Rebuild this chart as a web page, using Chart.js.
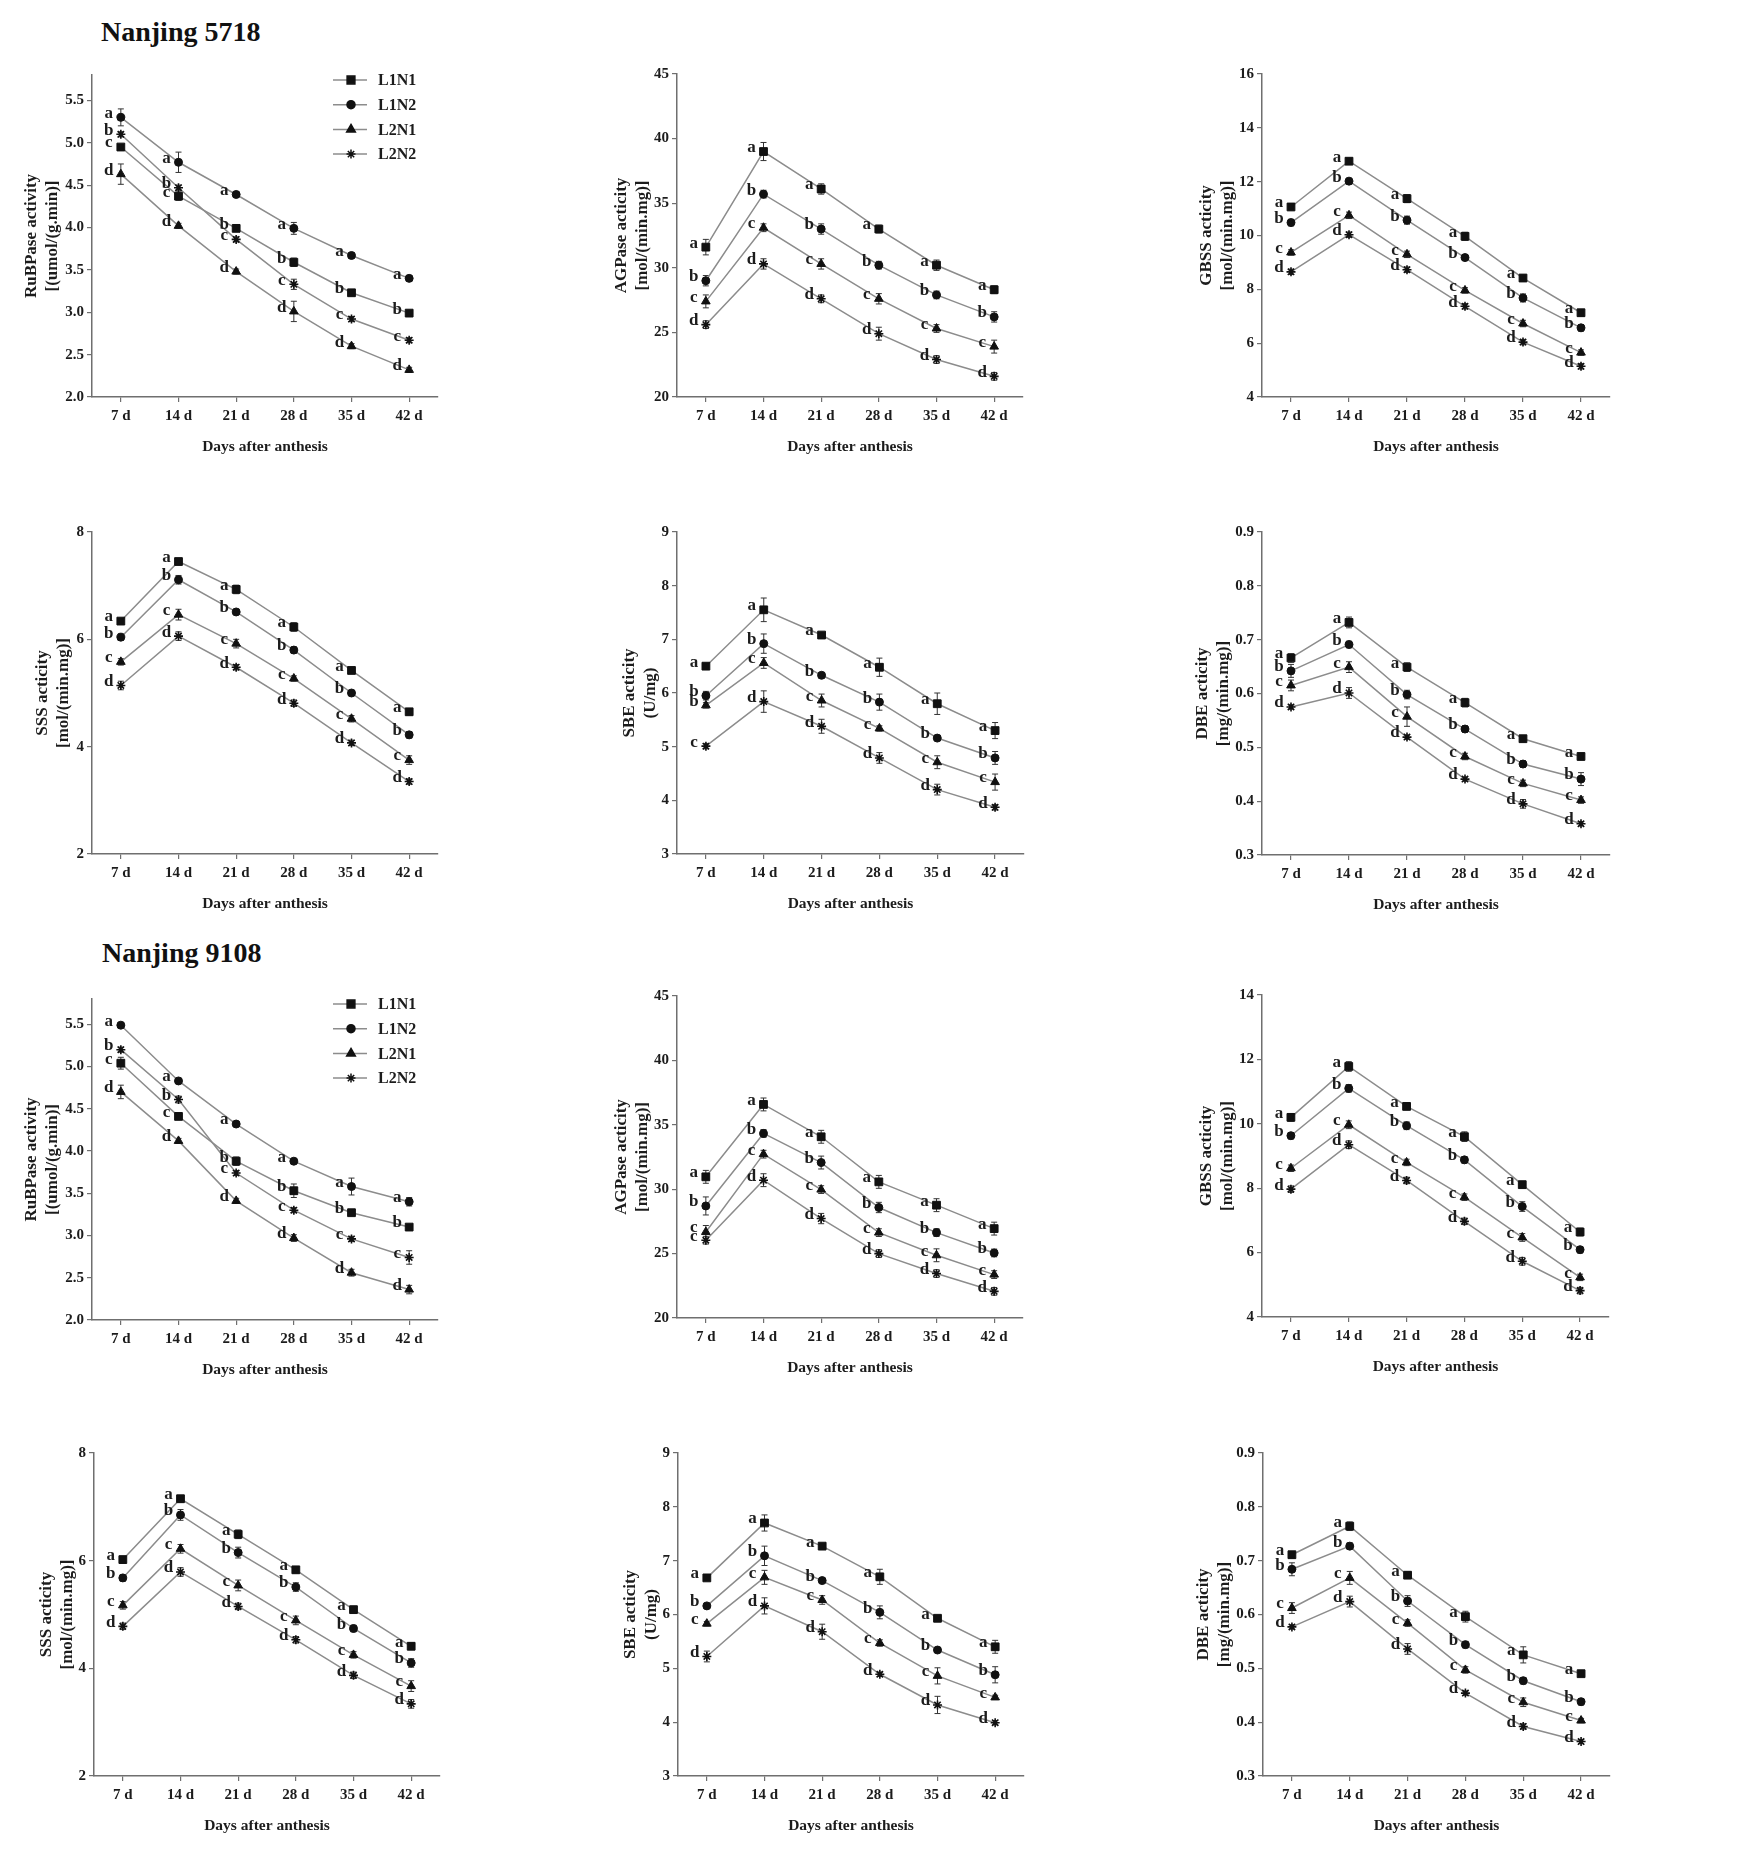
<!DOCTYPE html>
<html>
<head>
<meta charset="utf-8">
<script src="https://cdn.jsdelivr.net/npm/chart.js@4.4.1/dist/chart.umd.min.js"></script>
<style>
  html, body { margin: 0; padding: 0; background: #fff; }
  #page { position: relative; width: 1761px; height: 1851px; overflow: hidden; }
  .ttl { position: absolute; font: bold 28px "Liberation Serif", "Times New Roman", serif; line-height: 30px; color: #111; white-space: nowrap; }
  canvas { position: absolute; }
</style>
</head>
<body>
<div id="page">
  <div class="ttl" style="left:101px;top:17px">Nanjing 5718</div>
  <div class="ttl" style="left:102px;top:938px">Nanjing 9108</div>
</div>
<script>
// categories and treatments
const DAYS = ['7 d', '14 d', '21 d', '28 d', '35 d', '42 d'];
const TREATMENTS = ['L1N1', 'L1N2', 'L2N1', 'L2N2'];

// ---- Nanjing 5718 ----  (rows: L1N1, L1N2, L2N1, L2N2)
const RUBP_5718 = [
  [4.95, 4.37, 3.99, 3.59, 3.23, 2.99],
  [5.30, 4.77, 4.39, 3.99, 3.67, 3.40],
  [4.63, 4.02, 3.48, 3.01, 2.60, 2.32],
  [5.10, 4.47, 3.86, 3.33, 2.92, 2.67]
];
const RUBP_5718_SE = [
  [0.03, 0.05, 0.03, 0.05, 0.02, 0.03],
  [0.10, 0.12, 0.03, 0.07, 0.03, 0.03],
  [0.12, 0.03, 0.03, 0.12, 0.03, 0.03],
  [0.03, 0.03, 0.03, 0.06, 0.03, 0.03]
];
const RUBP_5718_SIG = ['ccbbbb', 'aaaaaa', 'dddddd', 'bbcccc'];

const AGP_5718 = [
  [31.6, 39.0, 36.1, 33.0, 30.2, 28.3],
  [29.0, 35.7, 33.0, 30.2, 27.9, 26.2],
  [27.4, 33.1, 30.3, 27.6, 25.3, 23.9],
  [25.6, 30.3, 27.6, 24.9, 22.9, 21.6]
];
const AGP_5718_SE = [
  [0.6, 0.7, 0.4, 0.3, 0.4, 0.3],
  [0.4, 0.3, 0.4, 0.3, 0.3, 0.4],
  [0.5, 0.3, 0.4, 0.4, 0.3, 0.5],
  [0.3, 0.4, 0.3, 0.5, 0.3, 0.3]
];
const AGP_5718_SIG = ['aaaaaa', 'bbbbbb', 'cccccc', 'dddddd'];

const GBSS_5718 = [
  [11.06, 12.76, 11.37, 9.97, 8.42, 7.13],
  [10.48, 12.02, 10.57, 9.18, 7.68, 6.57],
  [9.37, 10.75, 9.30, 7.96, 6.73, 5.65],
  [8.65, 10.03, 8.73, 7.37, 6.04, 5.14]
];
const GBSS_5718_SE = [
  [0.12, 0.10, 0.15, 0.15, 0.12, 0.12],
  [0.12, 0.10, 0.15, 0.10, 0.15, 0.12],
  [0.10, 0.12, 0.12, 0.10, 0.12, 0.10],
  [0.10, 0.10, 0.10, 0.10, 0.10, 0.10]
];
const GBSS_5718_SIG = ['aaaaaa', 'bbbbbb', 'cccccc', 'dddddd'];

const SSS_5718 = [
  [6.34, 7.45, 6.93, 6.23, 5.42, 4.65],
  [6.04, 7.11, 6.51, 5.80, 5.00, 4.22],
  [5.58, 6.46, 5.92, 5.27, 4.52, 3.75],
  [5.14, 6.06, 5.48, 4.81, 4.07, 3.35]
];
const SSS_5718_SE = [
  [0.05, 0.05, 0.08, 0.08, 0.05, 0.06],
  [0.06, 0.08, 0.05, 0.06, 0.05, 0.06],
  [0.06, 0.10, 0.08, 0.05, 0.06, 0.08],
  [0.08, 0.08, 0.05, 0.06, 0.05, 0.05]
];
const SSS_5718_SIG = ['aaaaaa', 'bbbbbb', 'cccccc', 'dddddd'];

const SBE_5718 = [
  [6.50, 7.55, 7.08, 6.48, 5.80, 5.30],
  [5.95, 6.92, 6.33, 5.83, 5.16, 4.79],
  [5.77, 6.56, 5.86, 5.34, 4.71, 4.34],
  [5.01, 5.84, 5.38, 4.79, 4.20, 3.87]
];
const SBE_5718_SE = [
  [0.04, 0.22, 0.04, 0.17, 0.20, 0.15],
  [0.08, 0.18, 0.05, 0.15, 0.05, 0.12],
  [0.05, 0.10, 0.12, 0.05, 0.12, 0.15],
  [0.05, 0.20, 0.13, 0.10, 0.10, 0.05]
];
const SBE_5718_SIG = ['aaaaaa', 'bbbbbb', 'bccccc', 'cddddd'];

const DBE_5718 = [
  [0.666, 0.732, 0.649, 0.583, 0.516, 0.483],
  [0.642, 0.691, 0.598, 0.534, 0.469, 0.441],
  [0.615, 0.649, 0.557, 0.483, 0.433, 0.402],
  [0.575, 0.601, 0.519, 0.441, 0.395, 0.358]
];
const DBE_5718_SE = [
  [0.008, 0.010, 0.008, 0.008, 0.006, 0.006],
  [0.012, 0.006, 0.008, 0.006, 0.006, 0.012],
  [0.010, 0.010, 0.018, 0.006, 0.006, 0.006],
  [0.004, 0.010, 0.004, 0.004, 0.008, 0.004]
];
const DBE_5718_SIG = ['aaaaaa', 'bbbbbb', 'cccccc', 'dddddd'];

// ---- Nanjing 9108 ----
const RUBP_9108 = [
  [5.04, 4.41, 3.88, 3.53, 3.27, 3.10],
  [5.49, 4.83, 4.32, 3.88, 3.58, 3.40],
  [4.70, 4.12, 3.41, 2.97, 2.56, 2.36],
  [5.20, 4.61, 3.74, 3.30, 2.96, 2.74]
];
const RUBP_9108_SE = [
  [0.07, 0.03, 0.05, 0.08, 0.03, 0.03],
  [0.03, 0.03, 0.03, 0.03, 0.10, 0.05],
  [0.08, 0.03, 0.03, 0.04, 0.04, 0.05],
  [0.03, 0.04, 0.03, 0.03, 0.03, 0.08]
];
const RUBP_9108_SIG = ['ccbbbb', 'aaaaaa', 'dddddd', 'bbcccc'];

const AGP_9108 = [
  [30.96, 36.58, 34.07, 30.57, 28.76, 26.94],
  [28.70, 34.33, 32.07, 28.58, 26.63, 25.05],
  [26.68, 32.72, 29.97, 26.63, 24.87, 23.37],
  [26.04, 30.70, 27.72, 25.00, 23.45, 22.07]
];
const AGP_9108_SE = [
  [0.5, 0.5, 0.5, 0.5, 0.5, 0.5],
  [0.7, 0.3, 0.5, 0.4, 0.3, 0.3],
  [0.5, 0.3, 0.3, 0.3, 0.5, 0.3],
  [0.3, 0.5, 0.4, 0.3, 0.3, 0.3]
];
const AGP_9108_SIG = ['aaaaaa', 'bbbbbb', 'cccccc', 'cddddd'];

const GBSS_9108 = [
  [10.20, 11.78, 10.54, 9.60, 8.11, 6.64],
  [9.63, 11.10, 9.94, 8.88, 7.43, 6.09],
  [8.62, 9.97, 8.80, 7.72, 6.47, 5.23],
  [7.97, 9.35, 8.24, 6.97, 5.73, 4.82]
];
const GBSS_9108_SE = [
  [0.12, 0.15, 0.10, 0.15, 0.10, 0.12],
  [0.10, 0.12, 0.12, 0.10, 0.15, 0.10],
  [0.10, 0.12, 0.10, 0.10, 0.12, 0.10],
  [0.10, 0.12, 0.10, 0.10, 0.12, 0.10]
];
const GBSS_9108_SIG = ['aaaaaa', 'bbbbbb', 'cccccc', 'dddddd'];

const SSS_9108 = [
  [6.02, 7.15, 6.49, 5.83, 5.09, 4.41],
  [5.68, 6.85, 6.15, 5.51, 4.74, 4.10],
  [5.17, 6.22, 5.54, 4.89, 4.25, 3.67],
  [4.78, 5.79, 5.15, 4.53, 3.87, 3.34]
];
const SSS_9108_SE = [
  [0.06, 0.06, 0.08, 0.06, 0.06, 0.06],
  [0.06, 0.10, 0.10, 0.08, 0.06, 0.08],
  [0.07, 0.08, 0.10, 0.08, 0.06, 0.10],
  [0.06, 0.08, 0.06, 0.06, 0.06, 0.08]
];
const SSS_9108_SIG = ['aaaaaa', 'bbbbbb', 'cccccc', 'dddddd'];

const SBE_9108 = [
  [6.68, 7.70, 7.27, 6.70, 5.93, 5.40],
  [6.16, 7.09, 6.63, 6.04, 5.34, 4.88],
  [5.83, 6.69, 6.27, 5.47, 4.86, 4.46],
  [5.22, 6.16, 5.68, 4.89, 4.32, 3.99]
];
const SBE_9108_SE = [
  [0.04, 0.15, 0.04, 0.14, 0.04, 0.12],
  [0.04, 0.18, 0.04, 0.12, 0.04, 0.15],
  [0.04, 0.13, 0.08, 0.06, 0.15, 0.04],
  [0.10, 0.15, 0.14, 0.04, 0.16, 0.04]
];
const SBE_9108_SIG = ['aaaaaa', 'bbbbbb', 'cccccc', 'dddddd'];

const DBE_9108 = [
  [0.711, 0.764, 0.673, 0.596, 0.525, 0.490],
  [0.684, 0.727, 0.625, 0.544, 0.477, 0.438],
  [0.612, 0.668, 0.584, 0.497, 0.437, 0.403],
  [0.577, 0.624, 0.536, 0.454, 0.392, 0.364]
];
const DBE_9108_SE = [
  [0.006, 0.008, 0.006, 0.010, 0.015, 0.004],
  [0.012, 0.006, 0.010, 0.006, 0.006, 0.006],
  [0.010, 0.012, 0.006, 0.006, 0.008, 0.004],
  [0.004, 0.010, 0.010, 0.004, 0.005, 0.004]
];
const DBE_9108_SIG = ['aaaaaa', 'bbbbbb', 'cccccc', 'dddddd'];

// styling
const SERIF = '"Liberation Serif", "Times New Roman", serif';
const LINE = '#8c8c8c';
const AXIS = '#6f6f6f';
const TXT = '#1c1c1c';
const MARKERS = ['rect', 'circle', 'triangle', 'star'];
const RADII = [5.5, 4, 5, 4.5];

const RUBP_T = ['RuBPase activity', '[(umol/(g.min)]'];
const MOL_T = n => [n + ' acticity', '[mol/(min.mg)]'];

// box = plot area [left, right, top, bottom]; tOff = y-title padding
const panels = [
  { d: RUBP_5718, se: RUBP_5718_SE, sig: RUBP_5718_SIG, title: RUBP_T, min: 2, max: 5.8, step: 0.5, dec: 1, box: [92, 438, 75, 397], tOff: 19, legend: true },
  { d: AGP_5718, se: AGP_5718_SE, sig: AGP_5718_SIG, title: MOL_T('AGPase'), min: 20, max: 45, step: 5, dec: 0, box: [677, 1023, 74, 397], tOff: 24 },
  { d: GBSS_5718, se: GBSS_5718_SE, sig: GBSS_5718_SIG, title: MOL_T('GBSS'), min: 4, max: 16, step: 2, dec: 0, box: [1262, 1610, 74, 397], tOff: 24 },
  { d: SSS_5718, se: SSS_5718_SE, sig: SSS_5718_SIG, title: MOL_T('SSS'), min: 2, max: 8, step: 2, dec: 0, box: [92, 438, 532, 854], tOff: 30 },
  { d: SBE_5718, se: SBE_5718_SE, sig: SBE_5718_SIG, title: ['SBE acticity', '(U/mg)'], min: 3, max: 9, step: 1, dec: 0, box: [677, 1024, 532, 854], tOff: 32 },
  { d: DBE_5718, se: DBE_5718_SE, sig: DBE_5718_SIG, title: ['DBE acticity', '[mg/(min.mg)]'], min: 0.3, max: 0.9, step: 0.1, dec: 1, box: [1262, 1610, 532, 855], tOff: 20 },
  { d: RUBP_9108, se: RUBP_9108_SE, sig: RUBP_9108_SIG, title: RUBP_T, min: 2, max: 5.8, step: 0.5, dec: 1, box: [92, 438, 999, 1320], tOff: 19, legend: true },
  { d: AGP_9108, se: AGP_9108_SE, sig: AGP_9108_SIG, title: MOL_T('AGPase'), min: 20, max: 45, step: 5, dec: 0, box: [677, 1023, 996, 1318], tOff: 24 },
  { d: GBSS_9108, se: GBSS_9108_SE, sig: GBSS_9108_SIG, title: MOL_T('GBSS'), min: 4, max: 14, step: 2, dec: 0, box: [1262, 1609, 995, 1317], tOff: 24 },
  { d: SSS_9108, se: SSS_9108_SE, sig: SSS_9108_SIG, title: MOL_T('SSS'), min: 2, max: 8, step: 2, dec: 0, box: [94, 440, 1453, 1776], tOff: 32 },
  { d: SBE_9108, se: SBE_9108_SE, sig: SBE_9108_SIG, title: ['SBE acticity', '(U/mg)'], min: 3, max: 9, step: 1, dec: 0, box: [678, 1024, 1453, 1776], tOff: 32 },
  { d: DBE_9108, se: DBE_9108_SE, sig: DBE_9108_SIG, title: ['DBE acticity', '[mg/(min.mg)]'], min: 0.3, max: 0.9, step: 0.1, dec: 1, box: [1263, 1610, 1453, 1776], tOff: 20 }
];

const Y_W = 90, X_H = 70, PAD_T = 20, PAD_R = 40;

// error bars, drawn under lines and markers
function errorBars(p) {
  return {
    id: 'errorBars',
    beforeDatasetsDraw(chart) {
      const ctx = chart.ctx, ys = chart.scales.y;
      ctx.save();
      ctx.strokeStyle = '#333';
      ctx.lineWidth = 1;
      p.se.forEach((row, i) => {
        const meta = chart.getDatasetMeta(i);
        row.forEach((e, j) => {
          const pt = meta.data[j];
          const v = p.d[i][j];
          const y1 = ys.getPixelForValue(v + e), y2 = ys.getPixelForValue(v - e);
          ctx.beginPath();
          ctx.moveTo(pt.x, y1); ctx.lineTo(pt.x, y2);
          ctx.moveTo(pt.x - 3, y1); ctx.lineTo(pt.x + 3, y1);
          ctx.moveTo(pt.x - 3, y2); ctx.lineTo(pt.x + 3, y2);
          ctx.stroke();
        });
      });
      ctx.restore();
    }
  };
}

// significance letters next to each point
function sigLetters(p) {
  return {
    id: 'sigLetters',
    afterDatasetsDraw(chart) {
      const ctx = chart.ctx;
      ctx.save();
      ctx.font = 'bold 17px ' + SERIF;
      ctx.fillStyle = TXT;
      ctx.textAlign = 'center';
      ctx.textBaseline = 'middle';
      p.sig.forEach((s, i) => {
        const meta = chart.getDatasetMeta(i);
        s.split('').forEach((ch, j) => {
          const pt = meta.data[j];
          ctx.fillText(ch, pt.x - 12, pt.y - 4);
        });
      });
      ctx.restore();
    }
  };
}

function marker(ctx, style, r, x, y) {
  if (Chart.helpers && Chart.helpers.drawPoint) {
    Chart.helpers.drawPoint(ctx, { pointStyle: style, radius: r, rotation: 0, borderWidth: style === 'star' ? 1.6 : 1 }, x, y);
    return;
  }
  ctx.beginPath();
  ctx.arc(x, y, r, 0, Math.PI * 2);
  ctx.fill();
}

// legend with line + marker, top right of plot
function lineLegend(p) {
  return {
    id: 'lineLegend',
    afterDraw(chart) {
      if (!p.legend) return;
      const ctx = chart.ctx, a = chart.chartArea;
      ctx.save();
      TREATMENTS.forEach((name, i) => {
        const y = a.top + 5 + i * 24.7;
        ctx.strokeStyle = LINE;
        ctx.lineWidth = 1.5;
        ctx.beginPath();
        ctx.moveTo(a.left + 241, y);
        ctx.lineTo(a.left + 275, y);
        ctx.stroke();
        ctx.fillStyle = '#111';
        ctx.strokeStyle = '#111';
        marker(ctx, MARKERS[i], RADII[i], a.left + 259, y);
        ctx.fillStyle = TXT;
        ctx.font = 'bold 16px ' + SERIF;
        ctx.textAlign = 'left';
        ctx.textBaseline = 'middle';
        ctx.fillText(name, a.left + 286, y + 1);
      });
      ctx.restore();
    }
  };
}

const page = document.getElementById('page');

panels.forEach(p => {
  const [L, R, T, B] = p.box;
  const cv = document.createElement('canvas');
  const w = (R - L) + Y_W + PAD_R;
  const h = (B - T) + PAD_T + X_H;
  cv.width = w; cv.height = h;
  cv.style.left = (L - Y_W) + 'px';
  cv.style.top = (T - PAD_T) + 'px';
  cv.style.width = w + 'px';
  cv.style.height = h + 'px';
  page.appendChild(cv);

  new Chart(cv, {
    type: 'line',
    data: {
      labels: DAYS,
      datasets: TREATMENTS.map((name, i) => ({
        label: name,
        data: p.d[i],
        borderColor: LINE,
        borderWidth: 1.5,
        tension: 0,
        fill: false,
        pointStyle: MARKERS[i],
        pointRadius: RADII[i],
        pointBackgroundColor: '#111',
        pointBorderColor: '#111',
        pointBorderWidth: i === 3 ? 1.6 : 1
      }))
    },
    options: {
      responsive: false,
      animation: false,
      events: [],
      layout: { padding: { top: PAD_T, right: PAD_R, left: 0, bottom: 0 } },
      plugins: { legend: { display: false }, tooltip: { enabled: false } },
      scales: {
        x: {
          type: 'category',
          offset: true,
          grid: { display: true, drawOnChartArea: false, offset: false, tickLength: 5, color: AXIS, lineWidth: 1.2 },
          border: { color: AXIS, width: 1.5 },
          ticks: { font: { family: SERIF, size: 15, weight: 'bold' }, color: TXT, padding: 5, maxRotation: 0, autoSkip: false },
          title: { display: true, text: 'Days after anthesis', color: TXT, font: { family: SERIF, size: 15.5, weight: 'bold' }, padding: { top: 0, bottom: 11 } },
          afterFit(s) { s.height = X_H; }
        },
        y: {
          min: p.min,
          max: p.max,
          grid: { display: true, drawOnChartArea: false, tickLength: 5, color: AXIS, lineWidth: 1.2 },
          border: { color: AXIS, width: 1.5 },
          ticks: { stepSize: p.step, includeBounds: false, color: TXT, padding: 3,
                   font: { family: SERIF, size: 15, weight: 'bold' },
                   callback: v => Number(v).toFixed(p.dec) },
          title: { display: true, text: p.title, color: TXT, font: { family: SERIF, size: 17, weight: 'bold', lineHeight: '21px' }, padding: { top: p.tOff, bottom: 0 } },
          afterFit(s) { s.width = Y_W; }
        }
      }
    },
    plugins: [errorBars(p), sigLetters(p), lineLegend(p)]
  });
});
</script>
</body>
</html>
